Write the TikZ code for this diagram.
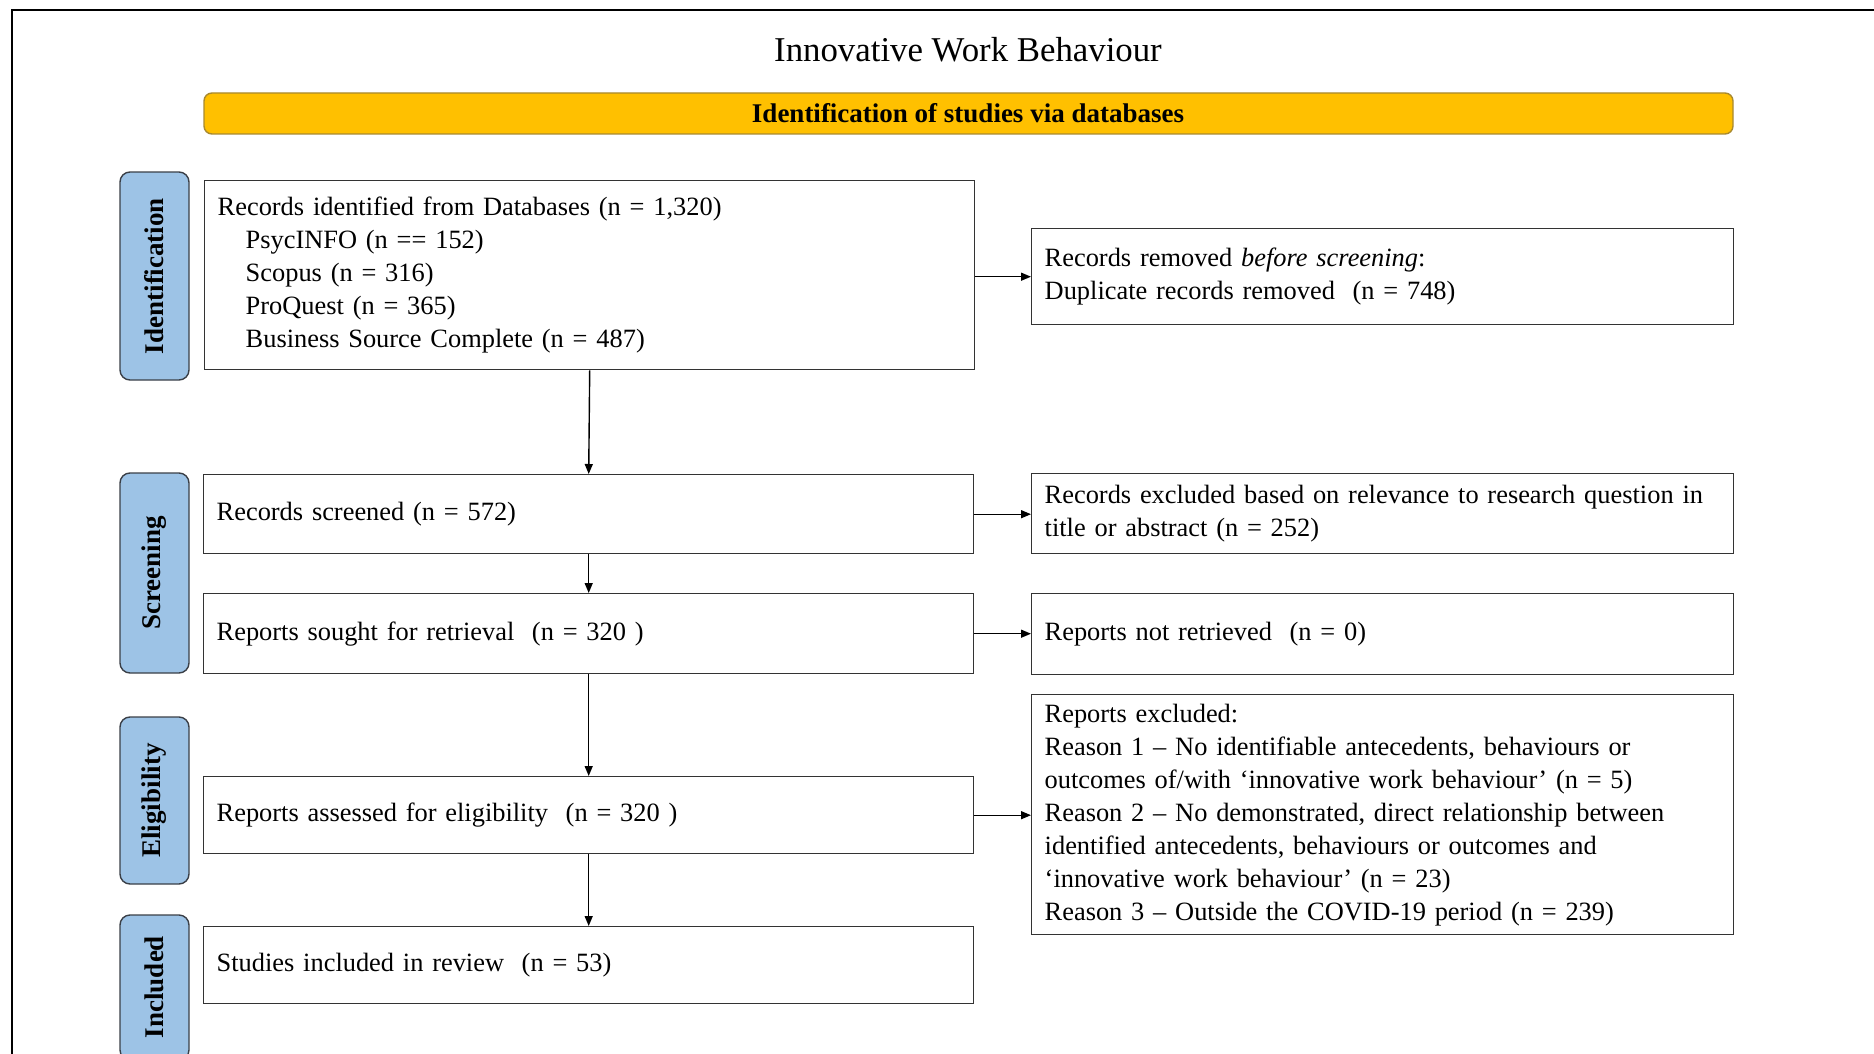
\documentclass[tikz,border=0pt]{standalone}
\usepackage{fontspec}
\setmainfont{Liberation Serif}
\usetikzlibrary{arrows.meta}
\definecolor{hdr}{HTML}{FFC000}
\definecolor{hdrline}{HTML}{A8892F}
\definecolor{side}{HTML}{9DC3E6}
\definecolor{sideline}{HTML}{3A3F47}
\definecolor{boxline}{HTML}{333333}
\begin{document}
\begin{tikzpicture}[x=1pt,y=-1pt,
 every node/.style={font=\fontsize{26.4}{33}\selectfont},
 flowbox/.style={draw=boxline, line width=1.4pt, rectangle, anchor=north west, align=left, inner xsep=13pt, inner ysep=0pt},
 lbox/.style={flowbox, text width=744pt},
 rbox/.style={flowbox, text width=676pt},
 sidebox/.style={draw=sideline, fill=side, line width=1.4pt, rounded corners=10pt},
 sidetext/.style={rotate=90, font=\fontsize{27}{33}\selectfont\bfseries},
 conn/.style={line width=1.4pt, draw=black, -{Triangle[length=10pt,width=8pt]}}
]
\useasboundingbox (0,0) rectangle (1874,1054);
\clip (0,0) rectangle (1874,1054);
% outer frame
\draw[line width=2pt] (12,1070) -- (12,10) -- (1890,10);
% title
\node (title) at (968,50) {\fontsize{34.8}{40}\selectfont Innovative Work Behaviour};
% header
\draw[fill=hdr, draw=hdrline, line width=1.4pt, rounded corners=8pt] (204,93) rectangle (1733,134);
\node[font=\fontsize{27}{33}\selectfont\bfseries] (hdr) at (968,113.5) {Identification of studies via databases};
% side boxes
\draw[sidebox] (120,172) rectangle (189,380);
\node[sidetext] (sid) at (154.5,276) {Identification};
\draw[sidebox] (120,473) rectangle (189,673);
\node[sidetext] (ssc) at (154.5,573) {Screening};
\draw[sidebox] (120,717) rectangle (189,884);
\node[sidetext] (sel) at (154.5,800.5) {Eligibility};
\draw[sidebox] (120,915) rectangle (189,1060);
\node[sidetext] (sin) at (154.5,987) {Included};
% left boxes
\node[lbox, minimum height=189pt] (b1) at (204,180) {Records identified from Databases (n = 1,320)\\
\hspace*{28pt}PsycINFO (n == 152)\\
\hspace*{28pt}Scopus (n = 316)\\
\hspace*{28pt}ProQuest (n = 365)\\
\hspace*{28pt}Business Source Complete (n = 487)};
\node[lbox, minimum height=79pt] (scr) at (203,474) {Records screened (n = 572)};
\node[lbox, minimum height=80pt] (sou) at (203,593) {Reports sought for retrieval\ \ (n = 320 )};
\node[lbox, minimum height=77pt] (ass) at (203,776) {Reports assessed for eligibility\ \ (n = 320 )};
\node[lbox, minimum height=77pt] (inc) at (203,926) {Studies included in review\ \ (n = 53)};
% right boxes
\node[rbox, minimum height=96pt] (rem) at (1031,228) {Records removed \textit{before screening}:\\
Duplicate records removed\ \ (n = 748)};
\node[rbox, minimum height=80pt] (exc) at (1031,473) {Records excluded based on relevance to research question in\\
title or abstract (n = 252)};
\node[rbox, minimum height=81pt] (nre) at (1031,593) {Reports not retrieved\ \ (n = 0)};
\node[rbox, minimum height=240pt] (rex) at (1031,694) {Reports excluded:\\
Reason 1 -- No identifiable antecedents, behaviours or\\
outcomes of/with `innovative work behaviour' (n = 5)\\
Reason 2 -- No demonstrated, direct relationship between\\
identified antecedents, behaviours or outcomes and\\
`innovative work behaviour' (n = 23)\\
Reason 3 -- Outside the COVID-19 period (n = 239)};
% connectors
\draw[conn] (b1.east |- rem.west) -- (rem.west);
\draw[conn] (b1.south) -- (scr.north);
\draw[conn] (scr.east) -- (scr.east -| exc.west);
\draw[conn] (scr.south) -- (sou.north);
\draw[conn] (sou.east) -- (sou.east -| nre.west);
\draw[conn] (sou.south) -- (ass.north);
\draw[conn] (ass.east) -- (ass.east -| rex.west);
\draw[conn] (ass.south) -- (inc.north);
\end{tikzpicture}
\end{document}
